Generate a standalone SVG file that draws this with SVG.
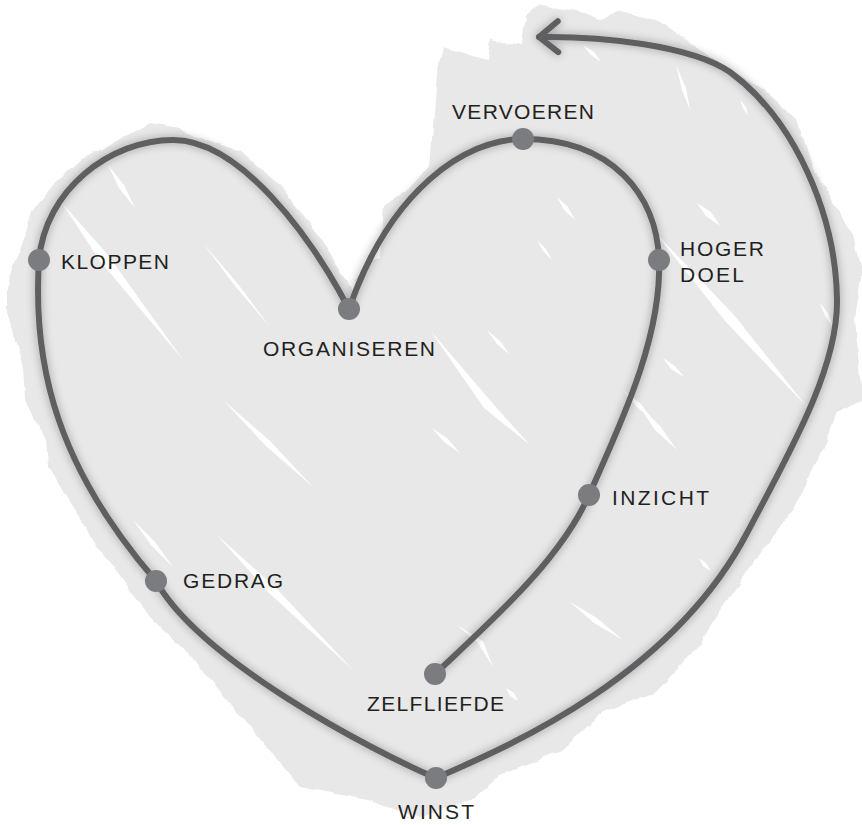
<svg xmlns="http://www.w3.org/2000/svg" width="862" height="825" viewBox="0 0 862 825">
<defs>
<style>
.bg{fill:#e8e8e8}
.streak{fill:#ffffff}
.conn{fill:none;stroke:#5f5f62;stroke-width:6;stroke-linecap:round;stroke-linejoin:round}
.dot{fill:#7b7c80}
.lbl{font-family:"Liberation Sans",Arial,sans-serif;font-size:21px;fill:#231f20}
</style>
<filter id="rough" x="-5%" y="-5%" width="110%" height="110%">
<feTurbulence type="fractalNoise" baseFrequency="0.05" numOctaves="2" seed="4" result="n"/>
<feDisplacementMap in="SourceGraphic" in2="n" scale="7" xChannelSelector="R" yChannelSelector="G"/>
</filter>
<filter id="soft" x="-10%" y="-10%" width="120%" height="120%">
<feGaussianBlur in="SourceAlpha" stdDeviation="5"/>
<feComponentTransfer><feFuncA type="linear" slope="0.35"/></feComponentTransfer>
<feMerge><feMergeNode/><feMergeNode in="SourceGraphic"/></feMerge>
</filter>
<marker id="arrow" markerUnits="userSpaceOnUse" viewBox="-26 -22 30 44" refX="0" refY="0" markerWidth="30" markerHeight="44" orient="auto" overflow="visible">
<path d="M-19,-15.5 L0,0 L-19,15.5" fill="none" stroke="#5f5f62" stroke-width="6" stroke-linecap="round" stroke-linejoin="round"/>
</marker>
</defs>

<g id="background">
<path class="bg" filter="url(#rough)" d="M150,122 L175,126 L205,140 L240,150 L276,182 L310,222 L340,270 L352,290 L365,262 L380,258 L383,207 L405,190 L430,168 L437,73 L443,47 L470,55 L487,60 L490,40 L522,45 L525,15 L540,5 L580,12 L600,20 L617,10 L657,20 L697,48 L763,90 L797,120 L813,168 L853,235 L862,270 L855,320 L862,400 L837,412 L823,450 L793,510 L760,553 L723,605 L700,643 L653,693 L603,712 L560,752 L500,775 L470,800 L420,818 L367,800 L300,787 L200,667 L150,617 L100,550 L47,467 L45,440 L25,400 L23,367 L7,313 L7,287 L25,233 L33,210 L67,170 L83,160 Z"/>
<path class="streak" d="M62,203 L100,261 L183,360 L108,255 Z"/>
<path class="streak" d="M108,165 L119,188 L135,208 L124,185 Z"/>
<path class="streak" d="M203,243 L235,286 L270,327 L238,284 Z"/>
<path class="streak" d="M223,400 L266,446 L313,487 L270,441 Z"/>
<path class="streak" d="M217,535 L268,592 L353,670 L274,586 Z"/>
<path class="streak" d="M133,520 L151,545 L173,567 L155,542 Z"/>
<path class="streak" d="M430,330 L484,408 L530,445 L494,405 Z"/>
<path class="streak" d="M487,330 L497,344 L510,355 L500,341 Z"/>
<path class="streak" d="M432,428 L444,442 L460,453 L447,438 Z"/>
<path class="streak" d="M640,407 L655,430 L677,450 L660,426 Z"/>
<path class="streak" d="M570,602 L594,623 L623,640 L597,618 Z"/>
<path class="streak" d="M699,558 L703,566 L711,571 L706,563 Z"/>
<path class="streak" d="M697,203 L706,216 L720,226 L711,212 Z"/>
<path class="streak" d="M653,230 L726,322 L807,407 L734,315 Z"/>
<path class="streak" d="M663,358 L671,369 L684,377 L675,366 Z"/>
<path class="streak" d="M820,303 L825,316 L833,327 L828,313 Z"/>
<path class="streak" d="M623,390 L637,407 L653,420 L640,403 Z"/>
<path class="streak" d="M557,197 L564,210 L575,220 L568,207 Z"/>
<path class="streak" d="M537,240 L543,251 L552,260 L546,249 Z"/>
<path class="streak" d="M457,625 L478,643 L493,667 L483,641 Z"/>
<path class="streak" d="M506,688 L510,696 L518,701 L514,693 Z"/>
<path class="streak" d="M583,45 L590,54 L601,62 L594,52 Z"/>
<path class="streak" d="M676,65 L682,90 L690,110 L686,88 Z"/>
<path class="streak" d="M740,100 L743,108 L748,116 L746,107 Z"/>
</g>

<g id="connectors" filter="url(#soft)">
<path class="conn" d="M435,674 C490,622 560,561 589,495"/>
<path class="conn" d="M589,495 C618,429 662,340 659,260"/>
<path class="conn" d="M659,260 C657,195 612,139 523,139"/>
<path class="conn" d="M523,139 C465,139 390,190 349,309"/>
<path class="conn" d="M349,309 C310,235 240,140 173,140 C110,140 45,190 39,260"/>
<path class="conn" d="M39,260 C32,370 60,470 156,581"/>
<path class="conn" d="M156,581 C200,660 370,750 436,778"/>
<path class="conn" marker-end="url(#arrow)" d="M436,778 C500,750 670,680 747,533 C787,457 838,370 837,300 C836,215 795,120 730,72 C690,45 600,36 539,37"/>
</g>

<g id="node-vervoeren"><circle class="dot" cx="523" cy="139" r="11"/><text class="lbl" x="452" y="119" textLength="142" lengthAdjust="spacing">VERVOEREN</text></g>
<g id="node-hoger-doel"><circle class="dot" cx="659" cy="260" r="11"/><text class="lbl"><tspan x="680" y="256" textLength="84" lengthAdjust="spacing">HOGER</tspan><tspan x="680" y="282" textLength="64" lengthAdjust="spacing">DOEL</tspan></text></g>
<g id="node-kloppen"><circle class="dot" cx="39" cy="260" r="11"/><text class="lbl" x="61" y="269" textLength="108" lengthAdjust="spacing">KLOPPEN</text></g>
<g id="node-organiseren"><circle class="dot" cx="349" cy="309" r="11"/><text class="lbl" x="263" y="356" textLength="172" lengthAdjust="spacing">ORGANISEREN</text></g>
<g id="node-gedrag"><circle class="dot" cx="156" cy="581" r="11"/><text class="lbl" x="183" y="588" textLength="100" lengthAdjust="spacing">GEDRAG</text></g>
<g id="node-inzicht"><circle class="dot" cx="589" cy="495" r="11"/><text class="lbl" x="612" y="505" textLength="97" lengthAdjust="spacing">INZICHT</text></g>
<g id="node-zelfliefde"><circle class="dot" cx="435" cy="674" r="11"/><text class="lbl" x="367" y="711" textLength="137" lengthAdjust="spacing">ZELFLIEFDE</text></g>
<g id="node-winst"><circle class="dot" cx="436" cy="778" r="11"/><text class="lbl" x="398" y="819" textLength="76" lengthAdjust="spacing">WINST</text></g>
</svg>
